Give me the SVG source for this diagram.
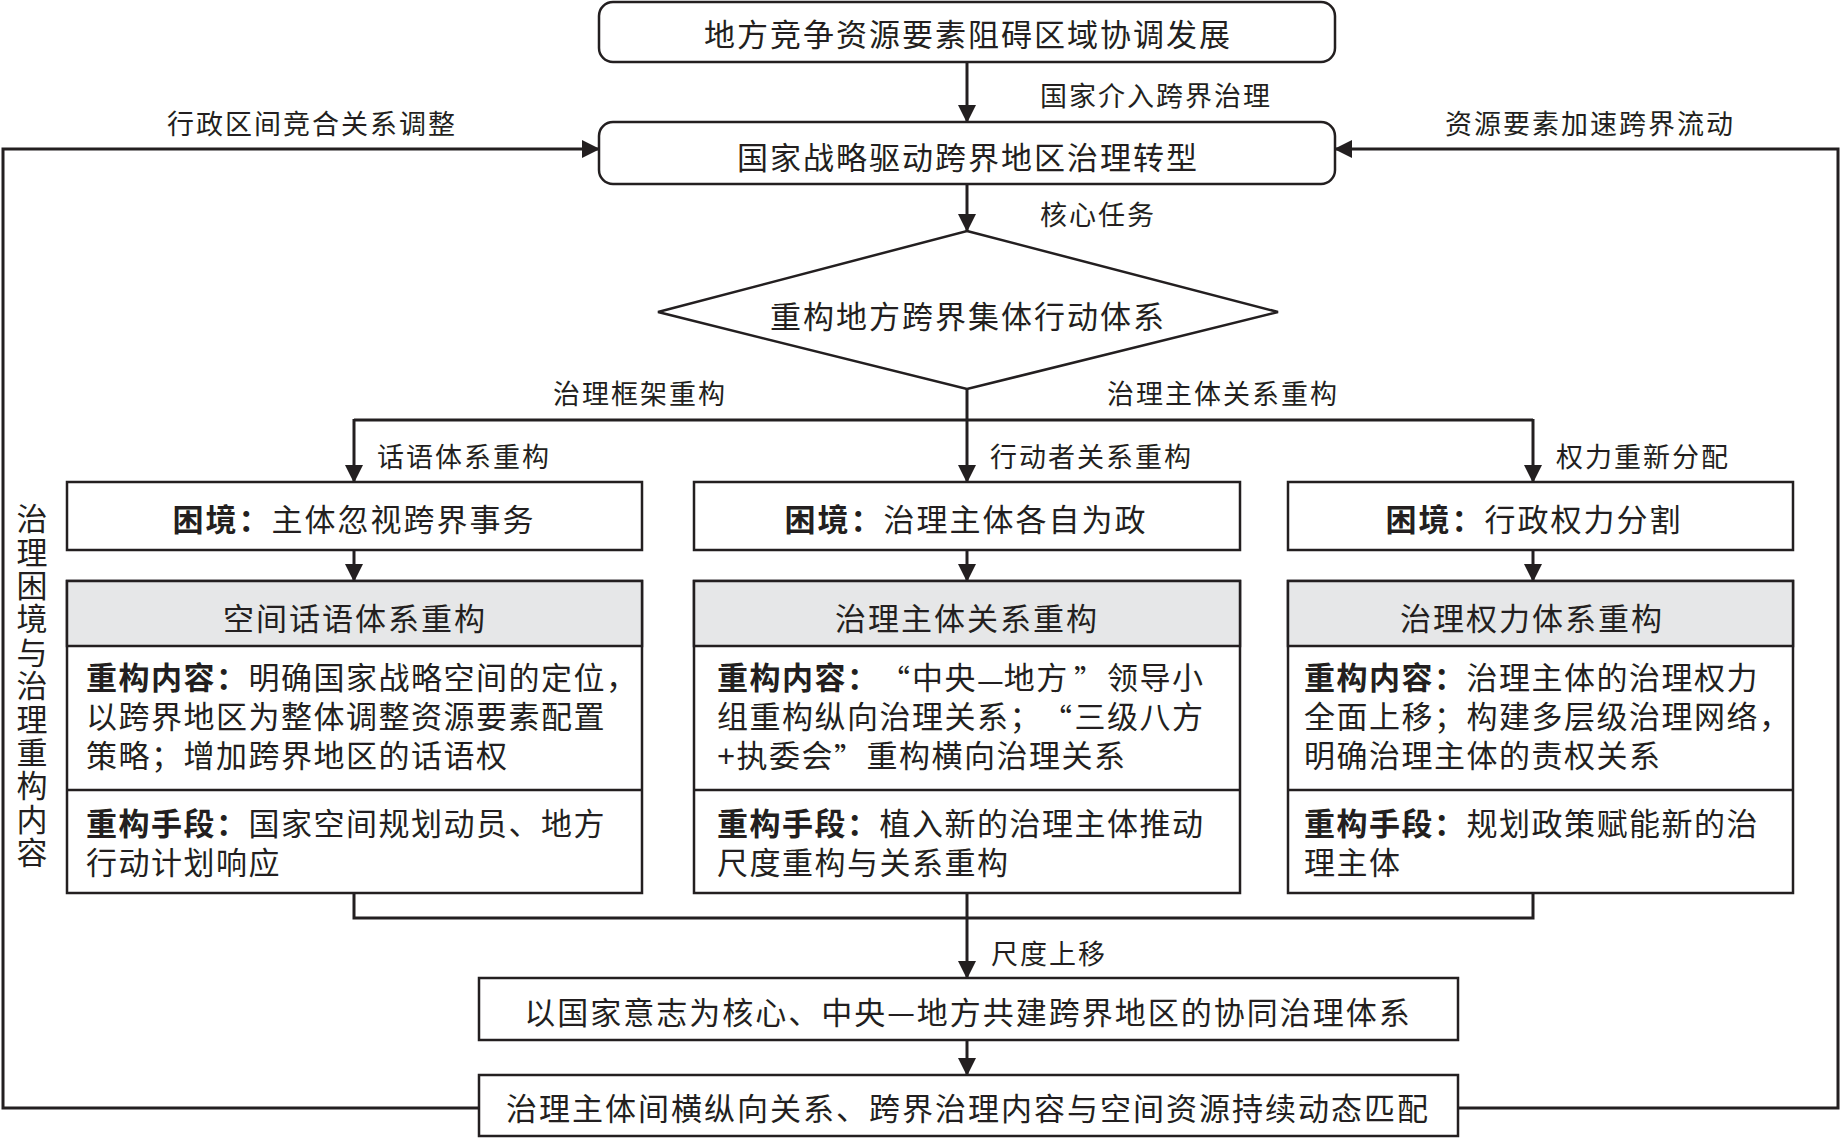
<svg xmlns="http://www.w3.org/2000/svg" width="1841" height="1138" viewBox="0 0 1841 1138">
<style>
  text { font-family: "Noto Sans CJK SC", "Noto Sans", sans-serif; fill: #231f20; dominant-baseline: central; }
  .main { font-size: 31px; letter-spacing: 2px; text-anchor: middle; }
  .lbl { font-size: 27px; letter-spacing: 2px; }
  .body { font-family: "Liberation Sans", "Noto Sans CJK SC", sans-serif; font-size: 31px; letter-spacing: 1.5px; }
  .b { font-weight: 700; }
  .q { font-family: "Noto Sans CJK SC", sans-serif; font-size: 30px; letter-spacing: 0; }
  .box { fill: #ffffff; stroke: #231f20; stroke-width: 2.5; }
  .hdr { fill: #e6e7e8; stroke: #231f20; stroke-width: 2.5; }
  .div { stroke: #231f20; stroke-width: 2.5; fill: none; }
  .ln { fill: none; stroke: #231f20; stroke-width: 3; }
  .arr { marker-end: url(#ah); }
</style>
<defs>
  <marker id="ah" markerUnits="userSpaceOnUse" markerWidth="18" markerHeight="18" refX="17" refY="9" orient="auto">
    <path d="M0,0 L18,9 L0,18 z" fill="#231f20"/>
  </marker>
</defs>
<rect width="1841" height="1138" fill="#ffffff"/>

<g id="connectors">
  <line class="ln arr" x1="967" y1="62" x2="967" y2="122"/>
  <line class="ln arr" x1="967" y1="184" x2="967" y2="231"/>
  <polyline class="ln" points="967,389 967,420"/>
  <line class="ln" x1="354" y1="420" x2="1533" y2="420"/>
  <line class="ln arr" x1="354" y1="419" x2="354" y2="482"/>
  <line class="ln arr" x1="967" y1="420" x2="967" y2="482"/>
  <line class="ln arr" x1="1533" y1="419" x2="1533" y2="482"/>
  <line class="ln arr" x1="354" y1="550" x2="354" y2="581"/>
  <line class="ln arr" x1="967" y1="550" x2="967" y2="581"/>
  <line class="ln arr" x1="1533" y1="550" x2="1533" y2="581"/>
  <polyline class="ln" points="354,893 354,918 1533,918 1533,893"/>
  <line class="ln arr" x1="967" y1="893" x2="967" y2="978"/>
  <line class="ln arr" x1="967" y1="1040" x2="967" y2="1075"/>
  <polyline class="ln arr" points="479,1108 3,1108 3,149 599,149"/>
  <polyline class="ln arr" points="1458,1108 1838,1108 1838,149 1335,149"/>
  <text class="lbl" x="167" y="122">行政区间竞合关系调整</text>
  <text class="lbl" x="1040" y="94">国家介入跨界治理</text>
  <text class="lbl" x="1445" y="122">资源要素加速跨界流动</text>
  <text class="lbl" x="1040" y="213">核心任务</text>
  <text class="lbl" x="553" y="392">治理框架重构</text>
  <text class="lbl" x="1107" y="392">治理主体关系重构</text>
  <text class="lbl" x="377" y="455">话语体系重构</text>
  <text class="lbl" x="990" y="455">行动者关系重构</text>
  <text class="lbl" x="1556" y="455">权力重新分配</text>
  <text class="lbl" x="991" y="952">尺度上移</text>
</g>

<g id="n-top">
  <rect class="box" x="599" y="2" width="736" height="60" rx="14"/>
  <text class="main" x="968" y="32">地方竞争资源要素阻碍区域协调发展</text>
</g>
<g id="n-strategy">
  <rect class="box" x="599" y="122" width="736" height="62" rx="14"/>
  <text class="main" x="968" y="155">国家战略驱动跨界地区治理转型</text>
</g>
<g id="n-diamond">
  <polygon class="box" points="967,231 1278,312 967,389 658,312"/>
  <text class="main" x="968" y="314">重构地方跨界集体行动体系</text>
</g>

<g id="n-side">
  <text x="32" y="503" writing-mode="vertical-rl" style="font-size:31px;letter-spacing:2.4px;dominant-baseline:central">治理困境与治理重构内容</text>
</g>

<g id="n-dilemma-left">
  <rect class="box" x="67" y="482" width="575" height="68"/>
  <text class="main" x="354" y="517"><tspan class="b">困境：</tspan>主体忽视跨界事务</text>
</g>
<g id="n-dilemma-mid">
  <rect class="box" x="694" y="482" width="546" height="68"/>
  <text class="main" x="966" y="517"><tspan class="b">困境：</tspan>治理主体各自为政</text>
</g>
<g id="n-dilemma-right">
  <rect class="box" x="1288" y="482" width="505" height="68"/>
  <text class="main" x="1534" y="517"><tspan class="b">困境：</tspan>行政权力分割</text>
</g>

<g id="n-panel-left">
  <rect class="box" x="67" y="581" width="575" height="312"/>
  <rect class="hdr" x="67" y="581" width="575" height="65"/>
  <line class="div" x1="67" y1="790" x2="642" y2="790"/>
  <text class="main" x="355" y="616">空间话语体系重构</text>
  <text class="body" x="86" y="678"><tspan class="b">重构内容：</tspan>明确国家战略空间的定位，</text>
  <text class="body" x="86" y="717">以跨界地区为整体调整资源要素配置</text>
  <text class="body" x="86" y="756">策略；增加跨界地区的话语权</text>
  <text class="body" x="86" y="824"><tspan class="b">重构手段：</tspan>国家空间规划动员、地方</text>
  <text class="body" x="86" y="863">行动计划响应</text>
</g>
<g id="n-panel-mid">
  <rect class="box" x="694" y="581" width="546" height="312"/>
  <rect class="hdr" x="694" y="581" width="546" height="65"/>
  <line class="div" x1="694" y1="790" x2="1240" y2="790"/>
  <text class="main" x="967" y="616">治理主体关系重构</text>
  <text class="body" x="717" y="678"><tspan class="b">重构内容：</tspan><tspan class="q" x="880">“</tspan><tspan x="912">中央<tspan class="q">—</tspan>地方</tspan><tspan class="q" x="1074">”</tspan><tspan x="1107">领导小</tspan></text>
  <text class="body" x="717" y="717">组重构纵向治理关系；<tspan class="q" x="1042">“</tspan><tspan x="1074.5">三级八方</tspan></text>
  <text class="body" x="717" y="756">+执委会<tspan class="q" x="834">”</tspan><tspan x="866.5">重构横向治理关系</tspan></text>
  <text class="body" x="717" y="824"><tspan class="b">重构手段：</tspan>植入新的治理主体推动</text>
  <text class="body" x="717" y="863">尺度重构与关系重构</text>
</g>
<g id="n-panel-right">
  <rect class="box" x="1288" y="581" width="505" height="312"/>
  <rect class="hdr" x="1288" y="581" width="505" height="65"/>
  <line class="div" x1="1288" y1="790" x2="1793" y2="790"/>
  <text class="main" x="1532" y="616">治理权力体系重构</text>
  <text class="body" x="1304" y="678"><tspan class="b">重构内容：</tspan>治理主体的治理权力</text>
  <text class="body" x="1304" y="717">全面上移；构建多层级治理网络，</text>
  <text class="body" x="1304" y="756">明确治理主体的责权关系</text>
  <text class="body" x="1304" y="824"><tspan class="b">重构手段：</tspan>规划政策赋能新的治</text>
  <text class="body" x="1304" y="863">理主体</text>
</g>

<g id="n-system">
  <rect class="box" x="479" y="978" width="979" height="62"/>
  <text class="main" x="968" y="1010">以国家意志为核心、中央—地方共建跨界地区的协同治理体系</text>
</g>
<g id="n-match">
  <rect class="box" x="479" y="1075" width="979" height="61"/>
  <text class="main" x="968" y="1106">治理主体间横纵向关系、跨界治理内容与空间资源持续动态匹配</text>
</g>
</svg>
